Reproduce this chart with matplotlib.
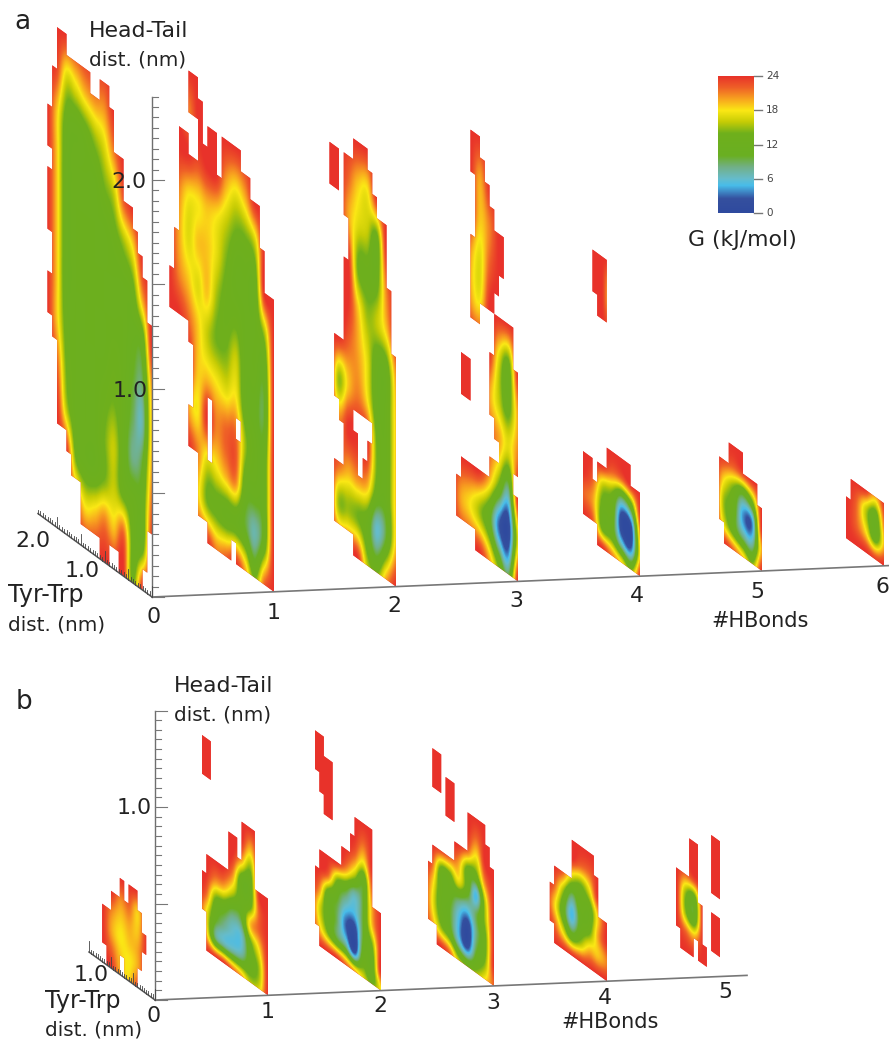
import matplotlib
matplotlib.use("Agg")
import matplotlib.pyplot as plt
import numpy as np
from matplotlib.colors import LinearSegmentedColormap
from matplotlib.patches import PathPatch
from matplotlib.path import Path
from matplotlib.transforms import Affine2D

# free energy colour scale, G in kJ/mol
CBAR_TICKS = [0, 6, 12, 18, 24]
CMAP_STOPS = [
    (0.0, "#2f4a9e"), (2.5, "#35509f"), (4.8, "#48bdea"), (6.0, "#66bccb"),
    (8.0, "#72b088"), (10.0, "#6aaf22"), (14.0, "#6fb01c"), (16.0, "#c6cc05"),
    (18.0, "#fbe815"), (20.0, "#f8a41f"), (22.0, "#ef6027"), (24.0, "#e8322a"),
]

# Footprints: (k0, k1, r0, r1), k = Tyr-Trp in 0.1 nm, r = Head-Tail in 0.1 nm.
# Value grids: rows go from the highest r down, columns from the highest k down to k=0.
A0_CELLS = [(21, 22, 18, 20), (21, 22, 14, 17), (21, 22, 10, 12), (20, 21, 9, 22), (18, 20, 5, 24),
            (17, 18, 4, 23), (15, 17, 3, 23), (13, 15, 1, 23), (11, 13, 1, 22), (9, 11, 0, 23),
            (8, 9, 1, 22), (7, 8, 1, 20), (6, 7, 0, 20), (5, 6, 0, 18), (4, 5, 0, 18),
            (3, 4, 0, 17), (2, 3, 0, 16), (1, 2, 1, 15), (0, 1, 3, 13)]
A0_G = [[24, 24, 24, 24, 24, 24, 24, 24, 24, 24, 24, 24],
        [24, 23, 17, 18, 20, 21, 21, 24, 24, 24, 24, 24],
        [24, 19, 13, 12, 13, 15, 17, 21, 24, 24, 24, 24],
        [24, 19, 12, 12, 12, 12, 14, 16, 22, 24, 24, 24],
        [24, 19, 12, 12, 12, 12, 12, 13, 15, 18, 24, 24],
        [24, 19, 12, 12, 12, 12, 12, 12, 12, 13, 20, 24],
        [24, 19, 12, 12, 12, 12, 12, 12, 12, 11, 12, 24],
        [24, 19, 13, 12, 12, 12, 12, 13, 12, 10, 9, 20],
        [24, 22, 14, 12, 12, 12, 13, 14, 12, 9, 7, 19],
        [24, 24, 16, 12, 12, 12, 14, 16, 12, 8, 10, 20],
        [24, 24, 24, 14, 12, 12, 14, 16, 13, 12, 12, 22],
        [24, 24, 24, 22, 18, 19, 21, 19, 22, 13, 13, 24],
        [24, 24, 24, 24, 24, 24, 24, 24, 24, 14, 24, 24]]

A1_CELLS = [(21, 22, 10, 12), (20, 21, 10, 14), (19, 20, 10, 19), (18, 19, 10, 19),
            (17, 18, 4, 6), (17, 18, 9, 18), (17, 18, 20, 22), (16, 17, 4, 18), (16, 17, 20, 22),
            (15, 16, 1, 21), (14, 15, 1, 19), (13, 14, 0, 4), (13, 14, 7, 20), (12, 13, 0, 20),
            (11, 12, 0, 18), (9, 11, 0, 20), (8, 9, 1, 20), (7, 8, 0, 6), (7, 8, 7, 20),
            (5, 7, 0, 19), (3, 5, 0, 18), (2, 3, 0, 16), (0, 2, 0, 14)]
A1_G = [[24, 24, 24, 24, 24, 24, 24, 24, 24, 24, 24, 24],
        [24, 24, 21, 24, 24, 24, 24, 24, 24, 24, 24, 24],
        [24, 24, 24, 23, 24, 24, 20, 18, 20, 24, 24, 24],
        [24, 21, 18, 18, 19, 18, 16, 14, 14, 16, 24, 24],
        [24, 20, 17, 19, 19, 17, 14, 12, 12, 12, 24, 24],
        [24, 21, 19, 17, 19, 15, 13, 13, 12, 12, 15, 24],
        [24, 24, 22, 19, 16, 14, 14, 16, 12, 12, 11, 24],
        [24, 24, 24, 19, 19, 18, 17, 18, 12, 11, 10, 24],
        [24, 24, 20, 18, 24, 21, 22, 22, 15, 12, 12, 24],
        [24, 24, 24, 21, 17, 18, 20, 21, 12, 11, 12, 24],
        [24, 24, 24, 19, 14, 13, 12, 12, 10, 7, 12, 24],
        [24, 24, 24, 24, 24, 21, 22, 24, 20, 14, 22, 24]]

A2_CELLS = [(12, 14, 17, 19), (12, 13, 1, 4), (12, 13, 7, 10), (11, 12, 1, 4), (11, 12, 6, 10),
            (10, 11, 1, 14), (10, 11, 16, 19), (9, 10, 1, 19), (8, 9, 0, 6), (8, 9, 7, 20),
            (7, 8, 0, 4), (7, 8, 7, 20), (6, 7, 0, 5), (6, 7, 7, 20), (5, 6, 0, 6), (5, 6, 7, 19),
            (4, 5, 0, 18), (2, 4, 0, 17), (1, 2, 0, 14), (0, 1, 0, 11)]
A2_G = [[24, 24, 24, 24, 24, 24, 24, 24],
        [24, 24, 22, 19, 18, 24, 24, 24],
        [24, 24, 20, 17, 16, 13, 24, 24],
        [24, 24, 24, 14, 13, 13, 21, 24],
        [24, 24, 24, 19, 15, 16, 19, 24],
        [24, 24, 22, 20, 17, 12, 12, 20],
        [24, 15, 19, 21, 18, 12, 12, 19],
        [24, 21, 24, 24, 24, 14, 12, 19],
        [24, 22, 20, 21, 20, 13, 12, 19],
        [24, 15, 15, 14, 12, 6, 10, 19],
        [24, 24, 24, 24, 16, 14, 20, 24]]

A3_CELLS = [(12, 13, 1, 3), (10, 12, 1, 4), (10, 12, 7, 9), (9, 10, 1, 4), (9, 10, 11, 15),
            (9, 10, 18, 20), (8, 9, 0, 4), (8, 9, 11, 20), (7, 8, 0, 4), (7, 8, 12, 19),
            (6, 7, 0, 4), (6, 7, 12, 18), (5, 6, 0, 5), (5, 6, 7, 10), (5, 6, 12, 17),
            (4, 5, 0, 5), (4, 5, 6, 12), (4, 5, 13, 16), (3, 4, 0, 12), (3, 4, 14, 16),
            (1, 3, 0, 12), (0, 1, 0, 4), (0, 1, 5, 10)]
A3_G = [[24, 24, 24, 24, 24, 24, 24],
        [24, 24, 20, 24, 24, 24, 24],
        [24, 24, 19, 21, 24, 24, 24],
        [24, 20, 17, 22, 24, 24, 24],
        [24, 20, 18, 24, 24, 24, 24],
        [24, 24, 24, 24, 17, 13, 24],
        [24, 24, 24, 20, 16, 13, 20],
        [24, 24, 24, 22, 20, 17, 21],
        [24, 24, 24, 20, 14, 8, 24],
        [20, 18, 15, 11, 3, 1, 17],
        [24, 24, 24, 20, 14, 9, 24]]

A4_CELLS = [(10, 12, 1, 4), (9, 10, 1, 3), (7, 9, 0, 4), (2, 7, 0, 5), (0, 2, 0, 4)]
A4_G = [[24, 24, 24, 24, 24, 24, 24],
        [24, 24, 24, 22, 22, 24, 24],
        [24, 22, 16, 14, 8, 12, 24],
        [22, 20, 13, 12, 1, 2, 21],
        [24, 22, 13, 12, 5, 3, 19],
        [24, 24, 24, 21, 18, 14, 24]]
A4_STRIP_CELLS = [(9, 10, 12, 14), (7, 9, 11, 14)]
A4_STRIP_G = [[24, 24, 24, 24, 24, 24], [24, 24, 19, 22, 24, 24], [24, 24, 18, 21, 24, 24],
              [24, 24, 22, 23, 24, 24], [24, 24, 24, 24, 24, 24]]

A5_CELLS = [(8, 9, 1, 4), (7, 8, 0, 4), (4, 7, 0, 5), (1, 4, 0, 4), (0, 1, 0, 3)]
A5_G = [[24, 24, 24, 24, 24, 24],
        [24, 23, 22, 23, 24, 24],
        [24, 18, 14, 10, 14, 24],
        [24, 15, 12, 4, 4, 24],
        [24, 17, 12, 8, 7, 20],
        [24, 24, 22, 19, 15, 24]]

A6_CELLS = [(7, 8, 0, 2), (0, 7, 0, 3)]
A6_G = [[24, 24, 24, 20, 24],
        [24, 22, 16, 12, 22],
        [24, 22, 18, 12, 20],
        [24, 24, 24, 23, 24]]

B0_CELLS = [(11, 12, 1, 3), (10, 11, 0, 3), (8, 10, 0, 4), (7, 8, 1, 5), (6, 7, 0, 4),
            (4, 6, 0, 5), (3, 4, 1, 4), (2, 3, 2, 3)]
B0_G = [[24, 24, 24, 24, 24, 24, 24],
        [24, 24, 21, 22, 19, 24, 24],
        [24, 21, 19, 20, 19, 24, 24],
        [24, 20, 18, 19, 20, 24, 24],
        [24, 22, 19, 18, 20, 24, 24],
        [24, 24, 20, 19, 23, 24, 24]]

B1_CELLS = [(13, 15, 9, 11), (14, 15, 2, 4), (9, 14, 0, 5), (7, 9, 0, 7), (6, 7, 0, 6),
            (3, 6, 0, 8), (0, 3, 0, 5)]
B1_G = [[24, 24, 24, 24, 24, 24, 24, 24, 24],
        [24, 24, 24, 24, 24, 24, 20, 24, 24],
        [24, 24, 24, 24, 24, 20, 15, 24, 24],
        [24, 24, 24, 24, 21, 12, 12, 24, 24],
        [24, 24, 21, 20, 16, 12, 13, 22, 24],
        [24, 22, 14, 12, 9, 10, 19, 22, 24],
        [24, 18, 11, 8, 6, 6, 13, 18, 24],
        [24, 19, 9, 7, 7, 8, 12, 15, 24],
        [24, 24, 24, 24, 22, 20, 16, 17, 24]]

B2_CELLS = [(14, 15, 9, 11), (13, 14, 8, 11), (11, 13, 7, 10), (14, 15, 1, 4), (9, 14, 0, 5),
            (7, 9, 0, 6), (6, 7, 0, 7), (2, 6, 0, 8), (0, 2, 0, 4)]
B2_G = [[24, 24, 24, 24, 24, 24, 24, 24, 24],
        [24, 24, 24, 24, 24, 24, 22, 24, 24],
        [24, 24, 24, 24, 24, 22, 18, 24, 24],
        [24, 24, 24, 24, 21, 16, 11, 22, 24],
        [24, 24, 22, 14, 11, 7, 10, 20, 24],
        [24, 21, 12, 10, 6, 5, 10, 19, 24],
        [24, 17, 12, 9, 3, 1, 10, 14, 24],
        [24, 19, 14, 10, 8, 2, 12, 12, 24],
        [24, 24, 24, 24, 22, 20, 17, 14, 18]]

B3_CELLS = [(12, 14, 8, 10), (9, 11, 7, 9), (14, 15, 1, 4), (13, 14, 1, 5), (9, 13, 0, 5),
            (6, 9, 0, 6), (2, 6, 0, 8), (1, 2, 0, 7), (0, 1, 0, 6)]
B3_G = [[24, 24, 24, 24, 24, 24, 24, 24, 24],
        [24, 24, 24, 24, 24, 24, 22, 24, 24],
        [24, 24, 24, 24, 24, 22, 18, 24, 24],
        [24, 24, 23, 22, 20, 13, 13, 21, 24],
        [24, 22, 13, 13, 17, 12, 5, 16, 24],
        [24, 19, 12, 11, 8, 6, 9, 15, 24],
        [24, 18, 12, 10, 5, 1, 8, 13, 24],
        [24, 20, 15, 12, 6, 2, 10, 14, 24],
        [24, 24, 24, 22, 16, 14, 15, 18, 22]]

B4_CELLS = [(12, 13, 1, 3), (8, 12, 0, 4), (3, 8, 0, 6), (2, 3, 0, 5), (0, 2, 0, 3)]
B4_G = [[24, 24, 24, 24, 24, 24, 24, 24],
        [24, 24, 24, 24, 22, 22, 24, 24],
        [24, 24, 22, 16, 14, 17, 24, 24],
        [24, 22, 15, 8, 12, 12, 19, 24],
        [24, 19, 12, 5, 11, 13, 20, 24],
        [24, 22, 17, 12, 15, 19, 19, 21],
        [24, 24, 24, 24, 24, 24, 24, 24]]

B5_CELLS = [(9, 10, 1, 4), (7, 9, 0, 4), (6, 7, 0, 6), (5, 6, 1, 6), (4, 5, 0, 3), (3, 4, 0, 1),
            (0, 2, 1, 3), (0, 2, 4, 7)]
B5_G = [[24, 24, 24, 24, 24, 24],
        [24, 22, 23, 24, 24, 24],
        [24, 15, 12, 24, 24, 24],
        [24, 15, 11, 24, 24, 24],
        [24, 22, 20, 24, 24, 24],
        [24, 24, 24, 24, 24, 24]]

# hbonds, footprint, grid, k step of the grid, r step of the grid, lowest r of the grid
PANEL_A_SLICES = [(0, A0_CELLS, A0_G, 2, 2, 0), (1, A1_CELLS, A1_G, 2, 2, 0), (2, A2_CELLS, A2_G, 2, 2, 0),
                  (3, A3_CELLS, A3_G, 2, 2, 0), (4, A4_CELLS, A4_G, 2, 1, 0),
                  (4, A4_STRIP_CELLS, A4_STRIP_G, 2, 1, 10), (5, A5_CELLS, A5_G, 2, 1, 0),
                  (6, A6_CELLS, A6_G, 2, 1, 0)]
PANEL_B_SLICES = [(0, B0_CELLS, B0_G, 2, 1, 0), (1, B1_CELLS, B1_G, 2, 1, 0), (2, B2_CELLS, B2_G, 2, 1, 0),
                  (3, B3_CELLS, B3_G, 2, 1, 0), (4, B4_CELLS, B4_G, 2, 1, 0), (5, B5_CELLS, B5_G, 2, 1, 0)]

cmap = LinearSegmentedColormap.from_list("g", [(v / 24, c) for v, c in CMAP_STOPS], N=512)
RED = cmap(1.0)

fig = plt.figure(figsize=(8.89, 10.42), dpi=100)
ax = fig.add_axes([0, 0, 1, 1])


def draw_panel(slices, x0, y0, hb_dx, hb_dy, k_dx, k_dy, r_dy, h_max, t_max, x_end):
    for n, cells, grid, k_step, r_step, r_low in slices:
        to_px = Affine2D(np.array([[-k_dx, 0, x0 + n * hb_dx],
                                   [-k_dy, -r_dy, y0 - n * hb_dy],
                                   [0, 0, 1]], float))
        paths = []
        for k0, k1, r0, r1 in cells:
            paths.append(Path([(k0, r0), (k1, r0), (k1, r1), (k0, r1), (k0, r0)], closed=True))
        patch = PathPatch(Path.make_compound_path(*paths), fc=RED, ec="none",
                          transform=to_px + ax.transData, zorder=2)
        ax.add_patch(patch)

        # pad with red so that the image edge always lies outside the footprint
        vals = np.array(grid, float)[:, ::-1]
        r_top = max(c[3] for c in cells)
        k_far = max(c[1] for c in cells)
        pad_top = max(1, int(np.ceil((r_top - (r_low + (vals.shape[0] - 1) * r_step)) / r_step)) + 1)
        pad_far = max(1, int(np.ceil((k_far - (vals.shape[1] - 1) * k_step) / k_step)) + 1)
        vals = np.pad(vals, ((pad_top, 1), (1, pad_far)), constant_values=24)
        nr, nk = vals.shape
        extent = (-1.5 * k_step, (nk - 1.5) * k_step, r_low - 1.5 * r_step, r_low + (nr - 1.5) * r_step)
        # catrom goes through the grid values, bicubic would smear the minima
        im = ax.imshow(vals, cmap=cmap, vmin=0, vmax=24, extent=extent, origin="upper", aspect="auto",
                       interpolation="catrom", interpolation_stage="data",
                       transform=to_px + ax.transData, zorder=3)
        im.set_clip_path(patch)

    # Head-Tail axis
    ax.plot([x0, x0], [y0, y0 - h_max * 10 * r_dy], color="#6e6e6e", lw=1.0, zorder=4)
    for h in np.arange(0, h_max + 1e-6, 0.05):
        y = y0 - h * 10 * r_dy
        major = abs(h * 2 - round(h * 2)) < 1e-6
        ax.plot([x0, x0 + (12 if major else 6)], [y, y], color="#777777", lw=0.8, zorder=4)

    # Tyr-Trp axis
    ax.plot([x0, x0 - t_max * 10 * k_dx], [y0, y0 - t_max * 10 * k_dy], color="#555555", lw=1.1, zorder=5)
    for t in np.arange(0, t_max + 1e-6, 0.05):
        x, y = x0 - t * 10 * k_dx, y0 - t * 10 * k_dy
        major = abs(t * 2 - round(t * 2)) < 1e-6
        ax.plot([x, x], [y, y - (11 if major else 4)], color="#444444", lw=0.6, zorder=5)

    # #HBonds axis
    ax.plot([x0, x_end], [y0, y0 - (x_end - x0) / hb_dx * hb_dy], color="#777777", lw=1.2, zorder=4)


draw_panel(PANEL_A_SLICES, 152, 597, 122, 5.2, 4.75, 3.475, 20.85, 2.4, 2.4, 889)
draw_panel(PANEL_B_SLICES, 155, 1000, 113, 4.7, 4.4, 3.2, 19.3, 1.5, 1.5, 747)

# colour bar
ramp = np.linspace(24, 0, 256)[:, None]
ax.imshow(ramp, cmap=cmap, vmin=0, vmax=24, extent=(718, 754, 213, 76), aspect="auto", zorder=3)
for v in CBAR_TICKS:
    y = 213 - v / 24 * 137
    ax.plot([754, 762], [y, y], color="#777777", lw=1.0)
    ax.text(766, y, str(v), fontsize=7.5, color="#444444", va="center", ha="left")

ax.set_xlim(0, 889)
ax.set_ylim(1042, 0)
ax.axis("off")

TXT = dict(color="#222222", fontsize=15.8, ha="center", va="center", zorder=6)
for s, x, y in [("2.0", 129, 182), ("1.0", 130, 391), ("2.0", 33, 541),
                ("1.0", 82, 571), ("0", 154, 617), ("1", 274, 613), ("2", 394, 606), ("3", 516, 601),
                ("4", 637, 596), ("5", 757, 592), ("6", 882, 587),
                ("1.0", 134, 808), ("1.0", 91, 975), ("0", 154, 1016),
                ("1", 268, 1012), ("2", 380, 1006), ("3", 493, 1003), ("4", 605, 998), ("5", 725, 992)]:
    ax.text(x, y, s, **TXT)
ax.text(22, 22, "a", **dict(TXT, fontsize=19))
ax.text(24, 702, "b", **dict(TXT, fontsize=19))
ax.text(760, 621, "#HBonds", **dict(TXT, fontsize=15))
ax.text(610, 1022, "#HBonds", **dict(TXT, fontsize=15))
ax.text(742, 240, "G (kJ/mol)", **dict(TXT, fontsize=15.8))

LEFT = dict(TXT, ha="left")
for s, x, y in [("Head-Tail", 89, 31), ("Head-Tail", 174, 686)]:
    ax.text(x, y, s, **LEFT)
for s, x, y in [("Tyr-Trp", 8, 595), ("Tyr-Trp", 45, 1001)]:
    ax.text(x, y, s, **dict(LEFT, fontsize=17))
for s, x, y in [("dist. (nm)", 89, 60), ("dist. (nm)", 8, 625), ("dist. (nm)", 174, 715), ("dist. (nm)", 45, 1030)]:
    ax.text(x, y, s, **dict(LEFT, fontsize=14.4))

fig.savefig("out.png", dpi=100)
